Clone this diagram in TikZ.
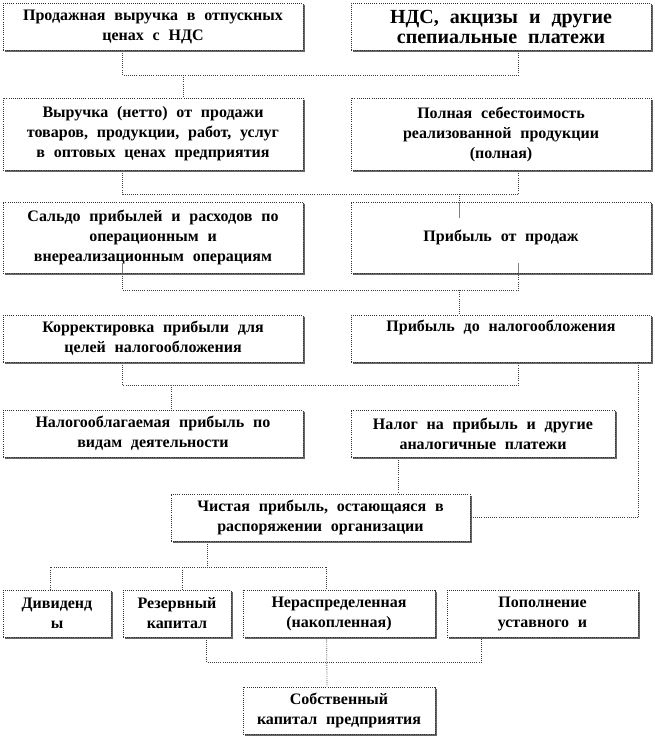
\documentclass[tikz,border=0pt]{standalone}
\usepackage{fontspec}
\setmainfont{Liberation Serif}
\usetikzlibrary{calc,shadows}
\newcommand\mybox[6]{%
  \node[box, minimum width={(#4-#2)*0.75pt}, minimum height={(#5-#3)*0.75pt}]
    (#1) at ({(#2+#4)/2},{(#3+#5)/2}) {#6};}
\newcommand\wsp{\spaceskip=0.55em plus 0.1em\relax}
\newcommand\bigsz{\fontsize{15}{17}\selectfont\wsp}
\begin{document}
\begin{tikzpicture}[x=0.75pt,y=-0.75pt,
  box/.style={draw=black!80, densely dotted, line width=0.6pt, fill=white,
    inner sep=0pt, align=center,
    font=\bfseries\fontsize{12}{15}\selectfont\wsp,
    drop shadow={shadow xshift=1.4pt, shadow yshift=-1.4pt, fill=black!60, opacity=1}},
  con/.style={draw=black!75, densely dotted, line width=0.6pt},
  inln/.style={draw=black!50, line width=0.6pt}]
\useasboundingbox (0,0) rectangle (654,737);

\mybox{a}{3}{3}{303}{50}{Продажная выручка в отпускных\\ценах с НДС}
\mybox{b}{351}{3}{651}{50}{\bigsz НДС, акцизы и другие\\\bigsz спепиальные платежи}
\mybox{c}{3}{98}{303}{170}{Выручка (нетто) от продажи\\товаров, продукции, работ, услуг\\в оптовых ценах предприятия}
\mybox{d}{351}{98}{651}{170}{Полная себестоимость\\реализованной продукции\\(полная)}
\mybox{e}{3}{202}{303}{273}{Сальдо прибылей и расходов по\\операционным и\\внереализационным операциям}
\mybox{f}{351}{202}{651}{273}{Прибыль от продаж}
\mybox{g}{3}{315}{303}{362}{Корректировка прибыли для\\целей налогообложения}
\mybox{h}{351}{315}{651}{362}{Прибыль до налогообложения\\\strut}
\mybox{i}{3}{410}{303}{457}{Налогооблагаемая прибыль по\\видам деятельности}
\mybox{j}{351}{410}{615}{457}{Налог на прибыль и другие\\аналогичные платежи}
\mybox{k}{171}{494}{470}{541}{Чистая прибыль, остающаяся в\\распоряжении организации}
\mybox{l}{3}{590}{111}{637}{Дивиденд\\ы}
\mybox{m}{123}{590}{231}{637}{Резервный\\капитал}
\mybox{n}{243}{590}{435}{637}{Нераспределенная\\(накопленная)}
\mybox{o}{447}{590}{638}{637}{Пополнение\\уставного и}
\mybox{p}{243}{687}{435}{734}{Собственный\\капитал предприятия}

% junctions
\coordinate (j1) at (183,75);
\coordinate (j2) at (459,194);
\coordinate (j3) at (459,290);
\coordinate (j4) at (171,385);
\coordinate (j5) at (207,567);
\coordinate (j6) at (327,662);

\draw[con] ($(a.south west)+(120,0)$) |- (j1) -| ($(b.south west)+(168,0)$);
\draw[con] (j1) -- (c.north -| j1);

\draw[con] ($(c.south west)+(120,0)$) |- (j2) -| ($(d.south west)+(168,0)$);
\draw[con] (j2) -- (f.north -| j2);
\draw[inln] (f.north -| j2) -- ($(f.north -| j2)+(0,16)$);

\draw[inln] ($(e.south west)+(120,-10)$) -- ($(e.south west)+(120,0)$);
\draw[inln] ($(f.south west)+(168,-10)$) -- ($(f.south west)+(168,0)$);
\draw[con] ($(e.south west)+(120,0)$) |- (j3) -| ($(f.south west)+(168,0)$);
\draw[con] (j3) -- (h.north -| j3);

\draw[con] ($(g.south west)+(120,0)$) |- (j4) -| ($(h.south west)+(168,0)$);
\draw[con] (j4) -- (i.north -| j4);

\draw[con] ($(h.south west)+(288,0)$) |- (k.east);
\draw[con] ($(j.south west)+(48,0)$) -- (k.north -| {$(j.south west)+(48,0)$});

\draw[con] (k.south -| j5) -- (j5);
\draw[con] ($(l.north west)+(48,0)$) |- (j5) -| ($(n.north west)+(84,0)$);
\draw[con] ($(m.north west)+(60,0)$) -- ($(m.north west)+(60,-23)$);

\draw[con] ($(m.south west)+(84,0)$) |- (j6) -| ($(o.south west)+(35,0)$);
\draw[con] ($(n.south west)+(84,0)$) -- (p.north -| j6);
\end{tikzpicture}
\end{document}
